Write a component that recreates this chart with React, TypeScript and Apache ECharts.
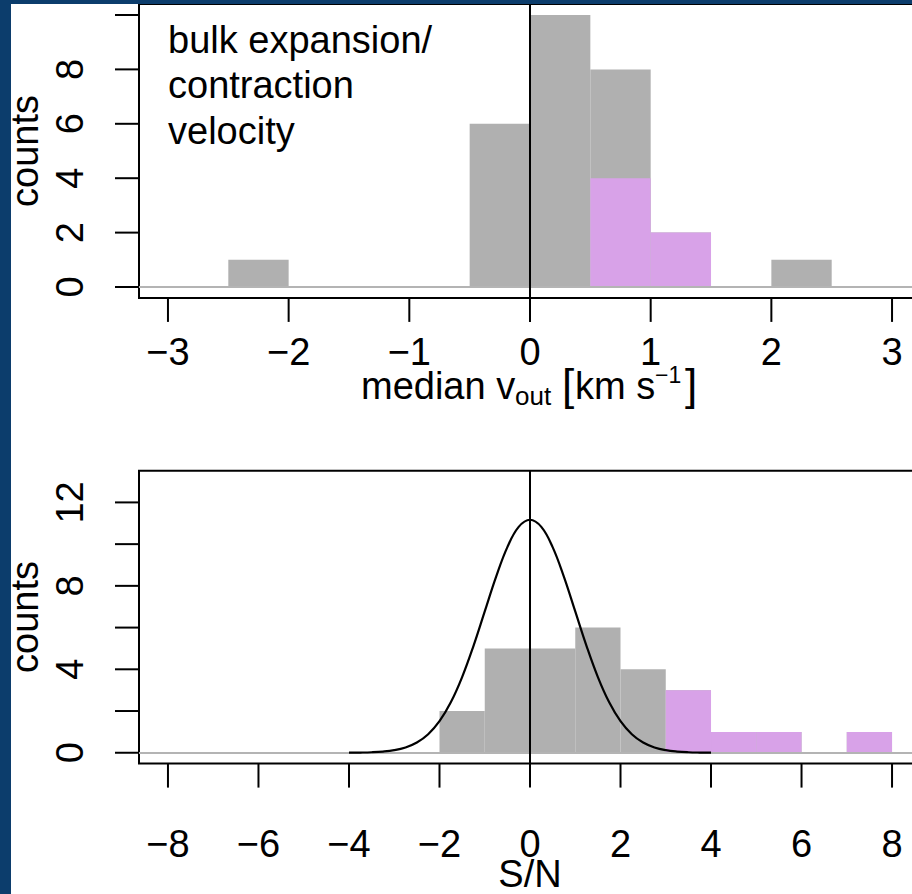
import React, { useEffect, useRef } from "react";
import * as echarts from "echarts";

// ---------- data ----------
// top panel: bulk expansion/contraction velocity histogram (bin width 0.5)
const topBinStarts = [-2.5, -2, -1.5, -1, -0.5, 0, 0.5, 1, 1.5, 2];
const topGrayCounts = [1, 0, 0, 0, 6, 10, 8, 2, 0, 1];
const topPurpleCounts = [0, 0, 0, 0, 0, 0, 4, 2, 0, 0];
const topBinWidth = 0.5;

// bottom panel: S/N histogram (bin width 1)
const botBinStarts = [-2, -1, 0, 1, 2, 3, 4, 5, 6, 7];
const botGrayCounts = [2, 5, 5, 6, 4, 3, 1, 1, 0, 1];
const botPurpleCounts = [0, 0, 0, 0, 0, 3, 1, 1, 0, 1];
const botBinWidth = 1;

// gaussian reference curve
const curveX = [-4, -3.75, -3.5, -3.25, -3, -2.75, -2.5, -2.25, -2, -1.75, -1.5, -1.25, -1, -0.75, -0.5, -0.25, 0,
  0.25, 0.5, 0.75, 1, 1.25, 1.5, 1.75, 2, 2.25, 2.5, 2.75, 3, 3.25, 3.5, 3.75, 4];
const curveY = [0.004, 0.01, 0.024, 0.057, 0.124, 0.255, 0.491, 0.889, 1.512, 2.416, 3.627, 5.114, 6.775, 8.432, 9.858, 10.827, 11.17,
  10.827, 9.858, 8.432, 6.775, 5.114, 3.627, 2.416, 1.512, 0.889, 0.491, 0.255, 0.124, 0.057, 0.024, 0.01, 0.004];

// ticks
const topXTicks = [-3, -2, -1, 0, 1, 2, 3];
const topXLabels = ["\u22123", "\u22122", "\u22121", "0", "1", "2", "3"];
const topYTicks = [0, 2, 4, 6, 8, 10];
const topYLabels = ["0", "2", "4", "6", "8", ""];
const botXTicks = [-8, -6, -4, -2, 0, 2, 4, 6, 8];
const botXLabels = ["\u22128", "\u22126", "\u22124", "\u22122", "0", "2", "4", "6", "8"];
const botYTicks = [0, 2, 4, 6, 8, 10, 12];
const botYLabels = ["0", "", "4", "", "8", "", "12"];

// axis extents (R style 4% padding)
const topXRange = [-3.24, 3.24];
const topYRange = [-0.4, 10.4];
const botXRange = [-8.64, 8.64];
const botYRange = [-0.52, 13.52];

const FONT = '"Liberation Sans", Arial, Helvetica, sans-serif';
const GRAY = "#b0b0b0";
const PURPLE = "#d8a2e8";
const BASE_GRAY = "#b4b4b4";
const BLUE = "#0c3d6c";

function barSeries(gi: number, starts: number[], counts: number[], w: number, color: string, z: number) {
  const data = starts
    .map((s, i) => [s, s + w, counts[i]])
    .filter((d) => d[2] > 0);
  return {
    type: "custom",
    xAxisIndex: gi,
    yAxisIndex: gi,
    silent: true,
    z,
    encode: { x: [0, 1], y: 2 },
    data,
    renderItem: (params: any, api: any) => {
      const p0 = api.coord([api.value(0), api.value(2)]);
      const p1 = api.coord([api.value(1), 0]);
      return {
        type: "rect",
        shape: { x: p0[0], y: p0[1], width: p1[0] - p0[0], height: p1[1] - p0[1] },
        style: { fill: color },
      };
    },
  };
}

function xTickSeries(gi: number, ticks: number[], labels: string[], yMin: number, labelOffset: number) {
  return {
    type: "custom",
    xAxisIndex: gi,
    yAxisIndex: gi,
    silent: true,
    clip: false,
    z: 10,
    encode: { x: 0, y: 1 },
    data: ticks.map((t) => [t, yMin]),
    renderItem: (params: any, api: any) => {
      const p = api.coord([api.value(0), api.value(1)]);
      return {
        type: "group",
        children: [
          { type: "line", shape: { x1: p[0], y1: p[1], x2: p[0], y2: p[1] + 24 }, style: { stroke: "#000", lineWidth: 2 } },
          {
            type: "text",
            x: p[0],
            y: p[1] + labelOffset,
            style: {
              text: labels[params.dataIndex],
              fill: "#000",
              fontSize: 38,
              lineHeight: 30,
              fontFamily: FONT,
              align: "center",
              verticalAlign: "middle",
            },
          },
        ],
      };
    },
  };
}

function yTickSeries(gi: number, ticks: number[], labels: string[], xMin: number) {
  return {
    type: "custom",
    xAxisIndex: gi,
    yAxisIndex: gi,
    silent: true,
    clip: false,
    z: 10,
    encode: { x: 0, y: 1 },
    data: ticks.map((t) => [xMin, t]),
    renderItem: (params: any, api: any) => {
      const p = api.coord([api.value(0), api.value(1)]);
      return {
        type: "group",
        children: [
          { type: "line", shape: { x1: p[0] - 24, y1: p[1], x2: p[0], y2: p[1] }, style: { stroke: "#000", lineWidth: 2 } },
          {
            type: "text",
            x: p[0] - 69,
            y: p[1],
            rotation: Math.PI / 2,
            style: { text: labels[params.dataIndex], fill: "#000", fontSize: 38, fontFamily: FONT, align: "center", verticalAlign: "middle" },
          },
        ],
      };
    },
  };
}

function refLines(gi: number) {
  return [
    {
      type: "line",
      xAxisIndex: gi,
      yAxisIndex: gi,
      data: [],
      silent: true,
      z: 6,
      markLine: {
        symbol: "none",
        silent: true,
        animation: false,
        label: { show: false },
        lineStyle: { color: BASE_GRAY, width: 2, type: "solid" },
        data: [{ yAxis: 0 }],
      },
    },
    {
      type: "line",
      xAxisIndex: gi,
      yAxisIndex: gi,
      data: [],
      silent: true,
      z: 8,
      markLine: {
        symbol: "none",
        silent: true,
        animation: false,
        label: { show: false },
        lineStyle: { color: "#000", width: 2, type: "solid" },
        data: [{ xAxis: 0 }],
      },
    },
  ];
}

function txt(text: string, x: number, y: number, size: number, align = "left", rotation = 0, lineHeight?: number) {
  return {
    type: "text",
    x,
    y,
    rotation,
    z: 20,
    silent: true,
    style: { text, fill: "#000", fontSize: size, fontFamily: FONT, align, verticalAlign: "middle", lineHeight: lineHeight ?? size },
  };
}

export default function App() {
  const ref = useRef<HTMLDivElement>(null);
  useEffect(() => {
    if (!ref.current) return;
    const chart = echarts.init(ref.current, undefined, { renderer: "svg" });
    const option: any = {
      animation: false,
      backgroundColor: "#ffffff",
      grid: [
        { left: 139, top: 4.1, width: 782, height: 293.8, show: true, borderColor: "#000", borderWidth: 2, backgroundColor: "transparent" },
        { left: 139, top: 470.7, width: 782, height: 292.9, show: true, borderColor: "#000", borderWidth: 2, backgroundColor: "transparent" },
      ],
      xAxis: [
        { gridIndex: 0, type: "value", min: topXRange[0], max: topXRange[1], show: false },
        { gridIndex: 1, type: "value", min: botXRange[0], max: botXRange[1], show: false },
      ],
      yAxis: [
        { gridIndex: 0, type: "value", min: topYRange[0], max: topYRange[1], show: false },
        { gridIndex: 1, type: "value", min: botYRange[0], max: botYRange[1], show: false },
      ],
      series: [
        barSeries(0, topBinStarts, topGrayCounts, topBinWidth, GRAY, 2),
        barSeries(0, topBinStarts, topPurpleCounts, topBinWidth, PURPLE, 3),
        barSeries(1, botBinStarts, botGrayCounts, botBinWidth, GRAY, 2),
        barSeries(1, botBinStarts, botPurpleCounts, botBinWidth, PURPLE, 3),
        {
          type: "line",
          xAxisIndex: 1,
          yAxisIndex: 1,
          silent: true,
          z: 5,
          symbol: "none",
          smooth: 0.4,
          lineStyle: { color: "#000", width: 2.2 },
          data: curveX.map((x, i) => [x, curveY[i]]),
        },
        ...refLines(0),
        ...refLines(1),
        xTickSeries(0, topXTicks, topXLabels, topYRange[0], 54),
        yTickSeries(0, topYTicks, topYLabels, topXRange[0]),
        xTickSeries(1, botXTicks, botXLabels, botYRange[0], 80),
        yTickSeries(1, botYTicks, botYLabels, botXRange[0]),
      ],
      graphic: [
        // annotation
        {
          type: "text",
          x: 168,
          y: 85,
          z: 20,
          silent: true,
          style: {
            text: "bulk expansion/\ncontraction\nvelocity",
            fill: "#000",
            fontSize: 38,
            fontFamily: FONT,
            lineHeight: 45.5,
            align: "left",
            verticalAlign: "middle",
          },
        },
        // y-axis titles
        txt("counts", 25, 151, 38, "center", Math.PI / 2),
        txt("counts", 25, 617, 38, "center", Math.PI / 2),
        // top x-axis title: median v_out [km s^-1]
        txt("median v", 361, 386, 38, "left", 0, 28),
        txt("out", 515, 396, 26, "left", 0, 20),
        txt("[", 562, 384, 44, "left", 0, 30),
        txt("km s", 575, 386, 38, "left", 0, 28),
        txt("\u22121", 655, 375, 23, "left", 0, 16),
        txt("]", 685, 384, 44, "left", 0, 30),
        // bottom x-axis title
        txt("S/N", 530, 874, 38, "center", 0, 28),
        // dark blue slide frame
        { type: "rect", z: 50, silent: true, shape: { x: 0, y: 0, width: 11, height: 894 }, style: { fill: BLUE } },
        { type: "rect", z: 50, silent: true, shape: { x: 0, y: 0, width: 930, height: 4 }, style: { fill: BLUE } },
      ],
    };
    chart.setOption(option);
    return () => chart.dispose();
  }, []);
  return (
    <div style={{ position: "absolute", left: 0, top: 0, width: 912, height: 894, overflow: "hidden", background: "#fff" }}>
      <div ref={ref} style={{ width: 930, height: 894 }} />
    </div>
  );
}
